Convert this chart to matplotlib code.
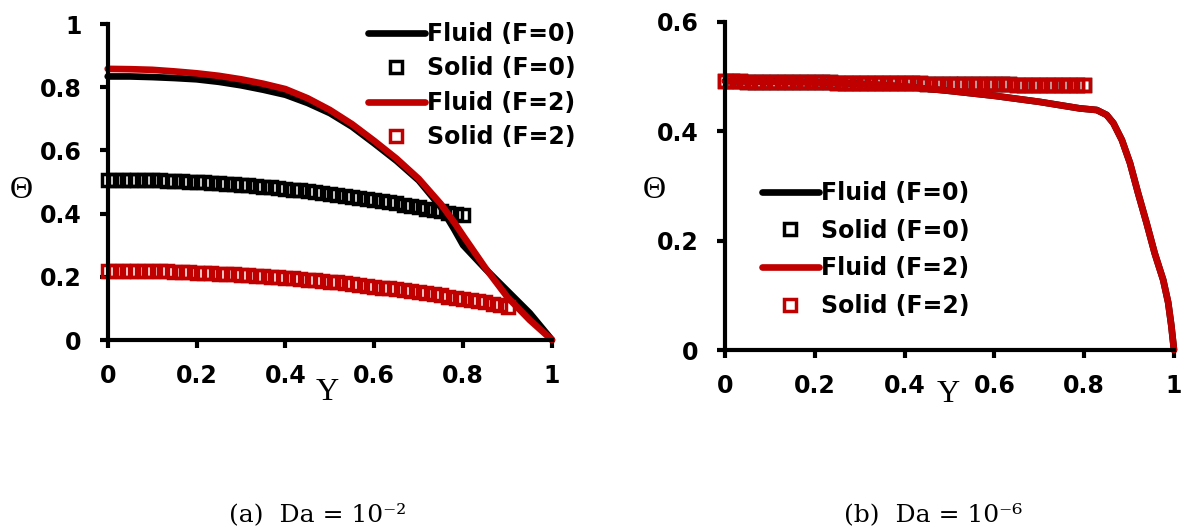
import numpy as np
import matplotlib
matplotlib.use("Agg")
import matplotlib.pyplot as plt

# ---- panel (a): Da = 1e-2 ----
y_fluid_a = [0.0, 0.05, 0.1, 0.15, 0.2, 0.25, 0.3, 0.35, 0.4, 0.45, 0.5, 0.55, 0.6, 0.65,
             0.7, 0.75, 0.78, 0.8, 0.85, 0.9, 0.95, 1.0]
fluid_a_f0 = [0.834, 0.834, 0.832, 0.829, 0.825, 0.817, 0.806, 0.792, 0.776, 0.750, 0.718,
              0.675, 0.622, 0.567, 0.505, 0.420, 0.350, 0.300, 0.225, 0.155, 0.085, 0.0]
fluid_a_f2 = [0.858, 0.857, 0.855, 0.850, 0.844, 0.836, 0.825, 0.811, 0.794, 0.765, 0.728,
              0.683, 0.630, 0.574, 0.510, 0.430, 0.372, 0.330, 0.228, 0.135, 0.063, 0.0]

y_solid_a_f0 = np.linspace(0.0, 0.8, 49)
solid_a_f0 = [0.507, 0.507, 0.507, 0.507, 0.506, 0.506, 0.505, 0.505, 0.504, 0.503,
              0.502, 0.501, 0.500, 0.499, 0.497, 0.496, 0.494, 0.493, 0.491, 0.489,
              0.487, 0.485, 0.483, 0.481, 0.479, 0.476, 0.474, 0.471, 0.468, 0.466,
              0.463, 0.460, 0.457, 0.453, 0.450, 0.447, 0.443, 0.440, 0.436, 0.432,
              0.428, 0.424, 0.420, 0.416, 0.412, 0.407, 0.403, 0.398, 0.394]
y_solid_a_f2 = np.linspace(0.0, 0.9, 55)
solid_a_f2 = [0.219, 0.219, 0.219, 0.219, 0.218, 0.218, 0.218, 0.217, 0.217, 0.216,
              0.215, 0.214, 0.213, 0.212, 0.211, 0.210, 0.209, 0.208, 0.206, 0.205,
              0.204, 0.202, 0.200, 0.199, 0.197, 0.195, 0.193, 0.191, 0.189, 0.187,
              0.184, 0.182, 0.179, 0.177, 0.174, 0.172, 0.169, 0.166, 0.163, 0.160,
              0.157, 0.154, 0.151, 0.148, 0.144, 0.141, 0.137, 0.134, 0.130, 0.126,
              0.122, 0.119, 0.115, 0.111, 0.106]

# ---- panel (b): Da = 1e-6 ----
y_fluid_b = [0.0, 0.1, 0.2, 0.3, 0.4, 0.5, 0.6, 0.7, 0.79, 0.828, 0.85, 0.865, 0.884,
             0.902, 0.92, 0.939, 0.957, 0.976, 0.987, 0.994, 1.0]
fluid_b_f0 = [0.492, 0.491, 0.490, 0.487, 0.482, 0.474, 0.465, 0.454, 0.442, 0.439, 0.430,
              0.415, 0.384, 0.342, 0.287, 0.232, 0.177, 0.128, 0.087, 0.045, 0.0]
fluid_b_f2 = [0.492, 0.491, 0.490, 0.487, 0.482, 0.474, 0.465, 0.454, 0.442, 0.439, 0.430,
              0.415, 0.384, 0.342, 0.287, 0.232, 0.177, 0.128, 0.087, 0.045, 0.0]

y_solid_b = np.linspace(0.0, 0.8, 49)
solid_b_f0 = [0.492, 0.492, 0.492, 0.491, 0.491, 0.491, 0.491, 0.491, 0.491, 0.490,
              0.490, 0.490, 0.490, 0.490, 0.490, 0.489, 0.489, 0.489, 0.489, 0.489,
              0.489, 0.488, 0.488, 0.488, 0.488, 0.488, 0.488, 0.487, 0.487, 0.487,
              0.487, 0.487, 0.487, 0.486, 0.486, 0.486, 0.486, 0.486, 0.486, 0.485,
              0.485, 0.485, 0.485, 0.485, 0.485, 0.484, 0.484, 0.484, 0.484]
solid_b_f2 = list(solid_b_f0)

labels = ["Fluid (F=0)", "Solid (F=0)", "Fluid (F=2)", "Solid (F=2)"]
captions = ["(a)  Da = 10\u207b\u00b2", "(b)  Da = 10\u207b\u2076"]

BLACK = "#000000"
RED = "#C00000"
W, H = 1186, 531


def style_axes(ax, yticks):
    for side in ("top", "right"):
        ax.spines[side].set_visible(False)
    for side in ("left", "bottom"):
        ax.spines[side].set_linewidth(3)
    ax.set_xlim(0, 1)
    ax.set_ylim(yticks[0], yticks[-1])
    ax.set_xticks([0, 0.2, 0.4, 0.6, 0.8, 1.0])
    ax.set_xticklabels(["0", "0.2", "0.4", "0.6", "0.8", "1"])
    ax.set_yticks(yticks)
    ax.set_yticklabels(["0" if v == 0 else ("1" if v == 1 else f"{v:.1f}") for v in yticks])
    ax.tick_params(axis="x", direction="out", length=6, width=3, pad=11)
    ax.tick_params(axis="y", direction="out", length=6, width=3, pad=13)
    for lab in ax.get_xticklabels() + ax.get_yticklabels():
        lab.set_fontsize(17)
        lab.set_fontweight("bold")
        lab.set_fontfamily("DejaVu Sans")


def draw(ax, yf, f0, f2, ys0, s0, ys2, s2):
    ax.plot(yf, f0, color=BLACK, lw=4.8, label=labels[0], clip_on=False,
            solid_capstyle="round", solid_joinstyle="round")
    ax.plot(ys0, s0, ls="none", marker="s", ms=9, mfc="none", mec=BLACK, mew=2.5,
            label=labels[1], clip_on=False)
    ax.plot(yf, f2, color=RED, lw=4.8, label=labels[2], clip_on=False,
            solid_capstyle="round", solid_joinstyle="round")
    ax.plot(ys2, s2, ls="none", marker="s", ms=9, mfc="none", mec=RED, mew=2.5,
            label=labels[3], clip_on=False)


fig = plt.figure(figsize=(W / 100, H / 100), dpi=100)

ax1 = fig.add_axes([107.7 / W, 1 - 340 / H, (552 - 107.7) / W, (340 - 24) / H])
draw(ax1, y_fluid_a, fluid_a_f0, fluid_a_f2, y_solid_a_f0, solid_a_f0, y_solid_a_f2, solid_a_f2)
style_axes(ax1, [0, 0.2, 0.4, 0.6, 0.8, 1.0])

ax2 = fig.add_axes([725 / W, 1 - 350 / H, (1174 - 725) / W, (350 - 22) / H])
draw(ax2, y_fluid_b, fluid_b_f0, fluid_b_f2, y_solid_b, solid_b_f0, y_solid_b, solid_b_f2)
style_axes(ax2, [0, 0.2, 0.4, 0.6])

legend_kw = dict(loc="upper left", frameon=False, borderpad=0, borderaxespad=0,
                 handlelength=2.4, handletextpad=0.1, numpoints=1, markerscale=0.9,
                 prop={"family": "DejaVu Sans", "weight": "bold", "size": 17})
leg1 = ax1.legend(bbox_to_anchor=(368 / W, 1 - 22 / H), bbox_transform=fig.transFigure,
                  labelspacing=0.44, **legend_kw)
leg2 = ax2.legend(bbox_to_anchor=(762 / W, 1 - 181 / H), bbox_transform=fig.transFigure,
                  labelspacing=0.58, **legend_kw)

# axis titles
serif = "Liberation Serif"
fig.text(21 / W, 1 - 190 / H, "\u0398", fontsize=23, family=serif, ha="center", va="center")
fig.text(654 / W, 1 - 190 / H, "\u0398", fontsize=23, family=serif, ha="center", va="center")
fig.text(327 / W, 1 - 393 / H, "Y", fontsize=23, family=serif, ha="center", va="center")
fig.text(948 / W, 1 - 395 / H, "Y", fontsize=23, family=serif, ha="center", va="center")

# sub-captions
fig.text(318 / W, 1 - 515 / H, captions[0], fontsize=18, family="DejaVu Serif", ha="center", va="center")
fig.text(933 / W, 1 - 515 / H, captions[1], fontsize=18, family="DejaVu Serif", ha="center", va="center")

fig.savefig("out.png", dpi=100)
